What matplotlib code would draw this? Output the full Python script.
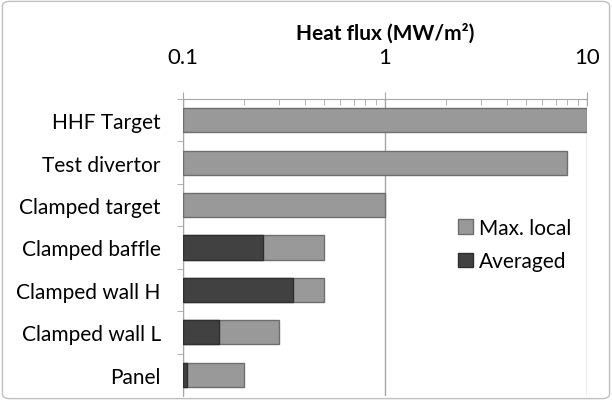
import matplotlib.pyplot as plt
from matplotlib.patches import FancyBboxPatch, Patch
from matplotlib.ticker import LogLocator, NullFormatter, FixedLocator

plt.rcParams['font.family'] = ['Lato', 'DejaVu Sans']

categories = ["HHF Target", "Test divertor", "Clamped target", "Clamped baffle",
              "Clamped wall H", "Clamped wall L", "Panel"]
max_local = [10.0, 8.0, 1.0, 0.5, 0.5, 0.3, 0.2]
averaged = [None, None, None, 0.25, 0.35, 0.15, 0.105]
x_ticks = [0.1, 1, 10]
x_labels = ["0.1", "1", "10"]

fig = plt.figure(figsize=(6.12, 4.02), dpi=100)
ax = fig.add_axes([183 / 612, 1 - 397 / 402, (587 - 183) / 612, (397 - 100) / 402])

# outer rounded border like the office chart frame
fig.patches.append(FancyBboxPatch((0.004, 0.006), 0.992, 0.988, boxstyle="round,pad=0,rounding_size=0.012",
                                  transform=fig.transFigure, fill=False, edgecolor='#bfbfbf', lw=1.0))

ypos = list(range(len(categories)))
h = 0.57
base = 0.1
ax.barh(ypos, [v - base for v in max_local], left=base, height=h,
        color='#999999', edgecolor='#6e6e6e', lw=1.0, zorder=3, label='Max. local')
avg_y = [y for y, a in zip(ypos, averaged) if a is not None]
avg_w = [a - base for a in averaged if a is not None]
ax.barh(avg_y, avg_w, left=base, height=h,
        color='#414141', edgecolor='#2e2e2e', lw=1.0, zorder=4, label='Averaged')

ax.set_xscale('log')
ax.set_xlim(0.1, 10)
ax.set_ylim(len(categories) - 0.5, -0.5)
ax.xaxis.tick_top()
ax.xaxis.set_label_position('top')
ax.set_xticks(x_ticks)
ax.set_xticklabels(x_labels, fontsize=16)
ax.xaxis.set_minor_locator(LogLocator(base=10, subs=range(2, 10)))
ax.xaxis.set_minor_formatter(NullFormatter())
ax.tick_params(axis='x', which='major', direction='inout', length=10, color='#a6a6a6', pad=18)
ax.tick_params(axis='x', which='minor', direction='in', length=4, color='#a6a6a6')
ax.set_xlabel("Heat flux (MW/m²)", fontsize=15, fontweight='bold', labelpad=6)
ax.grid(axis='x', which='major', color='#a6a6a6', lw=1.0, zorder=0)

ax.set_yticks(ypos)
ax.set_yticklabels(categories, fontsize=15)
ax.yaxis.set_minor_locator(FixedLocator([y + 0.5 for y in ypos[:-1]] + [-0.5]))
ax.tick_params(axis='y', which='major', length=0, pad=16)
ax.tick_params(axis='y', which='minor', direction='out', length=4, color='#a6a6a6')

for s in ['right', 'bottom']:
    ax.spines[s].set_visible(False)
for s in ['top', 'left']:
    ax.spines[s].set_color('#a6a6a6')

handles = [Patch(facecolor='#999999', edgecolor='#6e6e6e'),
           Patch(facecolor='#414141', edgecolor='#2e2e2e')]
ax.legend(handles, ['Max. local', 'Averaged'], loc='center left', bbox_to_anchor=(0.635, 0.51),
          frameon=False, fontsize=15, handlelength=0.7, handleheight=0.7, handletextpad=0.3,
          labelspacing=0.65)

fig.savefig('out.png', dpi=100)
